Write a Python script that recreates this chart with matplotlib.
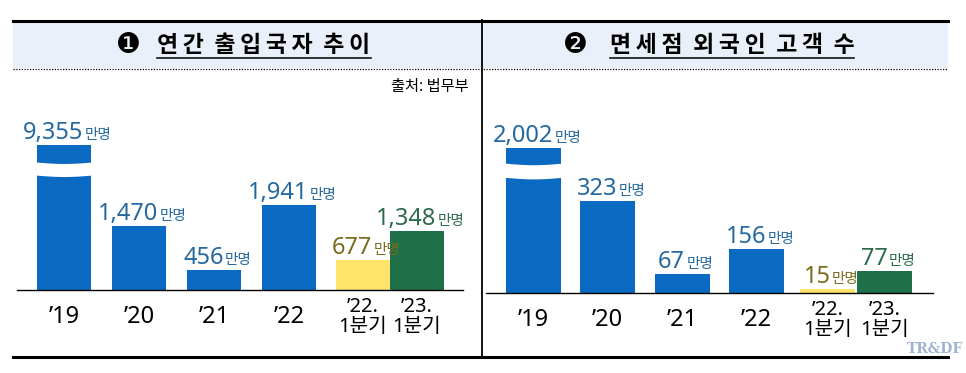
import matplotlib
matplotlib.use('Agg')
import matplotlib.pyplot as plt
from matplotlib.offsetbox import TextArea, HPacker, AnnotationBbox
from matplotlib.lines import Line2D
from matplotlib.patches import Rectangle
import numpy as np

plt.rcParams['font.family'] = ['Noto Sans CJK KR', 'DejaVu Sans']
NUMFONT = ['Noto Sans', 'Noto Sans CJK KR', 'DejaVu Sans']

# data (단위: 만명)
categories = ["’19", "’20", "’21", "’22", "’22.\n1분기", "’23.\n1분기"]
travelers = [9355, 1470, 456, 1941, 677, 1348]
dutyfree = [2002, 323, 67, 156, 15, 77]
titles = ["연\u2009간  출\u2009입\u2009국\u2009자  추\u2009이",
          "면\u2009세\u2009점  외\u2009국\u2009인  고\u2009객  수"]
marks = ["❶", "❷"]

BLUE = '#0a69c0'
YELLOW = '#ffe46c'
GREEN = '#1f7049'
LBL_BLUE = '#24689f'
LBL_YEL = '#7b6a1c'
LBL_GRN = '#2c6a4b'

W, H = 966, 373
fig = plt.figure(figsize=(W / 100, H / 100), dpi=100)


def fx(px):
    return px / W


def fy(py):
    return 1 - py / H


def hline(x0, x1, y, **kw):
    fig.add_artist(Line2D([fx(x0), fx(x1)], [fy(y), fy(y)], transform=fig.transFigure, **kw))


# frame
fig.add_artist(Rectangle((fx(13), fy(68)), fx(948) - fx(13), (68 - 21) / H,
                         transform=fig.transFigure, color='#e9f0f9', lw=0))
hline(13, 948, 20.5, color='black', lw=2.2)
hline(13, 948, 68.5, color='black', lw=0.9, linestyle=(0, (1, 1.2)))
hline(13, 948, 357, color='black', lw=2.2)
fig.add_artist(Line2D([fx(481.5), fx(481.5)], [fy(20), fy(357)], transform=fig.transFigure,
                      color='black', lw=1.3))


def value_label(ax, x, y, num, color):
    t1 = TextArea(f'{num:,}', textprops=dict(color=color, fontsize=17, family=NUMFONT))
    t2 = TextArea('만명', textprops=dict(color=color, fontsize=10.5))
    box = HPacker(children=[t1, t2], align='baseline', pad=0, sep=1)
    ab = AnnotationBbox(box, (x, y), xybox=(2.5, 0), xycoords='data', boxcoords='offset points',
                        box_alignment=(0.5, 0), frameon=False, pad=0)
    ax.add_artist(ab)


def panel(left, right, base, top, values, ymax, cap, brk, xs, width, xlim):
    ax = fig.add_axes([fx(left), fy(base), fx(right) - fx(left), (base - top) / H])
    shown = [min(v, cap) for v in values]
    colors = [BLUE] * 4 + [YELLOW, GREEN]
    ax.bar(xs, shown, width=width, color=colors, zorder=2)
    ax.set_xlim(*xlim)
    ax.set_ylim(0, ymax)
    for s in ['top', 'right', 'left']:
        ax.spines[s].set_visible(False)
    ax.spines['bottom'].set_linewidth(1)
    ax.set_xticks([])
    ax.set_yticks([])
    ax.patch.set_alpha(0)

    # wavy break on the first bar
    t = np.linspace(0, 1, 60)
    bx = xs[0] - width / 2 - 0.03 + t * (width + 0.06)
    amp = (brk[1] - brk[0]) * 0.12
    ax.fill_between(bx, brk[0] - amp * np.sin(np.pi * t), brk[1] - amp * np.sin(np.pi * t),
                    color='white', lw=0, zorder=3)

    lcols = [LBL_BLUE] * 4 + [LBL_YEL, LBL_GRN]
    for x, v, s, c in zip(xs, values, shown, lcols):
        value_label(ax, x, s, v, c)

    for x, lab in zip(xs, categories):
        size = 14.5 if '\n' in lab else 17
        ax.annotate(lab, xy=(x, 0), xycoords=('data', 'axes fraction'), xytext=(0, -19.5),
                    textcoords='offset points', ha='center', va='center', fontsize=size,
                    family=NUMFONT, linespacing=1.05, color='black')
    return ax


panel(17, 463, 290, 100, travelers, 4360, 3330, (2640, 2940),
      [0, 1, 2, 3, 3.98, 4.7], 0.72, (-0.627, 5.32))
panel(486, 933, 293, 100, dutyfree, 680, 511, (408, 458),
      [0, 1, 2, 3, 3.96, 4.73], 0.74, (-0.64, 5.38))

# titles
renderer = fig.canvas.get_renderer()
for cx, mx, title, mark in [(264, 128, titles[0], marks[0]), (732, 575, titles[1], marks[1])]:
    fig.text(fx(mx), fy(45), mark, ha='center', va='center', fontsize=20,
             family=['DejaVu Sans'], color='black')
    t = fig.text(fx(cx), fy(45), title, ha='center', va='center', fontsize=16.5,
                 fontweight='bold', color='black')
    bb = t.get_window_extent(renderer)
    fig.add_artist(Line2D([bb.x0 / W, bb.x1 / W], [fy(57.5), fy(57.5)],
                          transform=fig.transFigure, color='black', lw=1.1))

fig.text(fx(469), fy(87), '출처: 법무부', ha='right', va='center', fontsize=11, color='black')
fig.text(fx(935), fy(349), 'TR&DF', ha='center', va='center', fontsize=10, fontweight='bold',
         family=['DejaVu Serif'], color='#9fb2d2')

fig.savefig('out.png', dpi=100)
